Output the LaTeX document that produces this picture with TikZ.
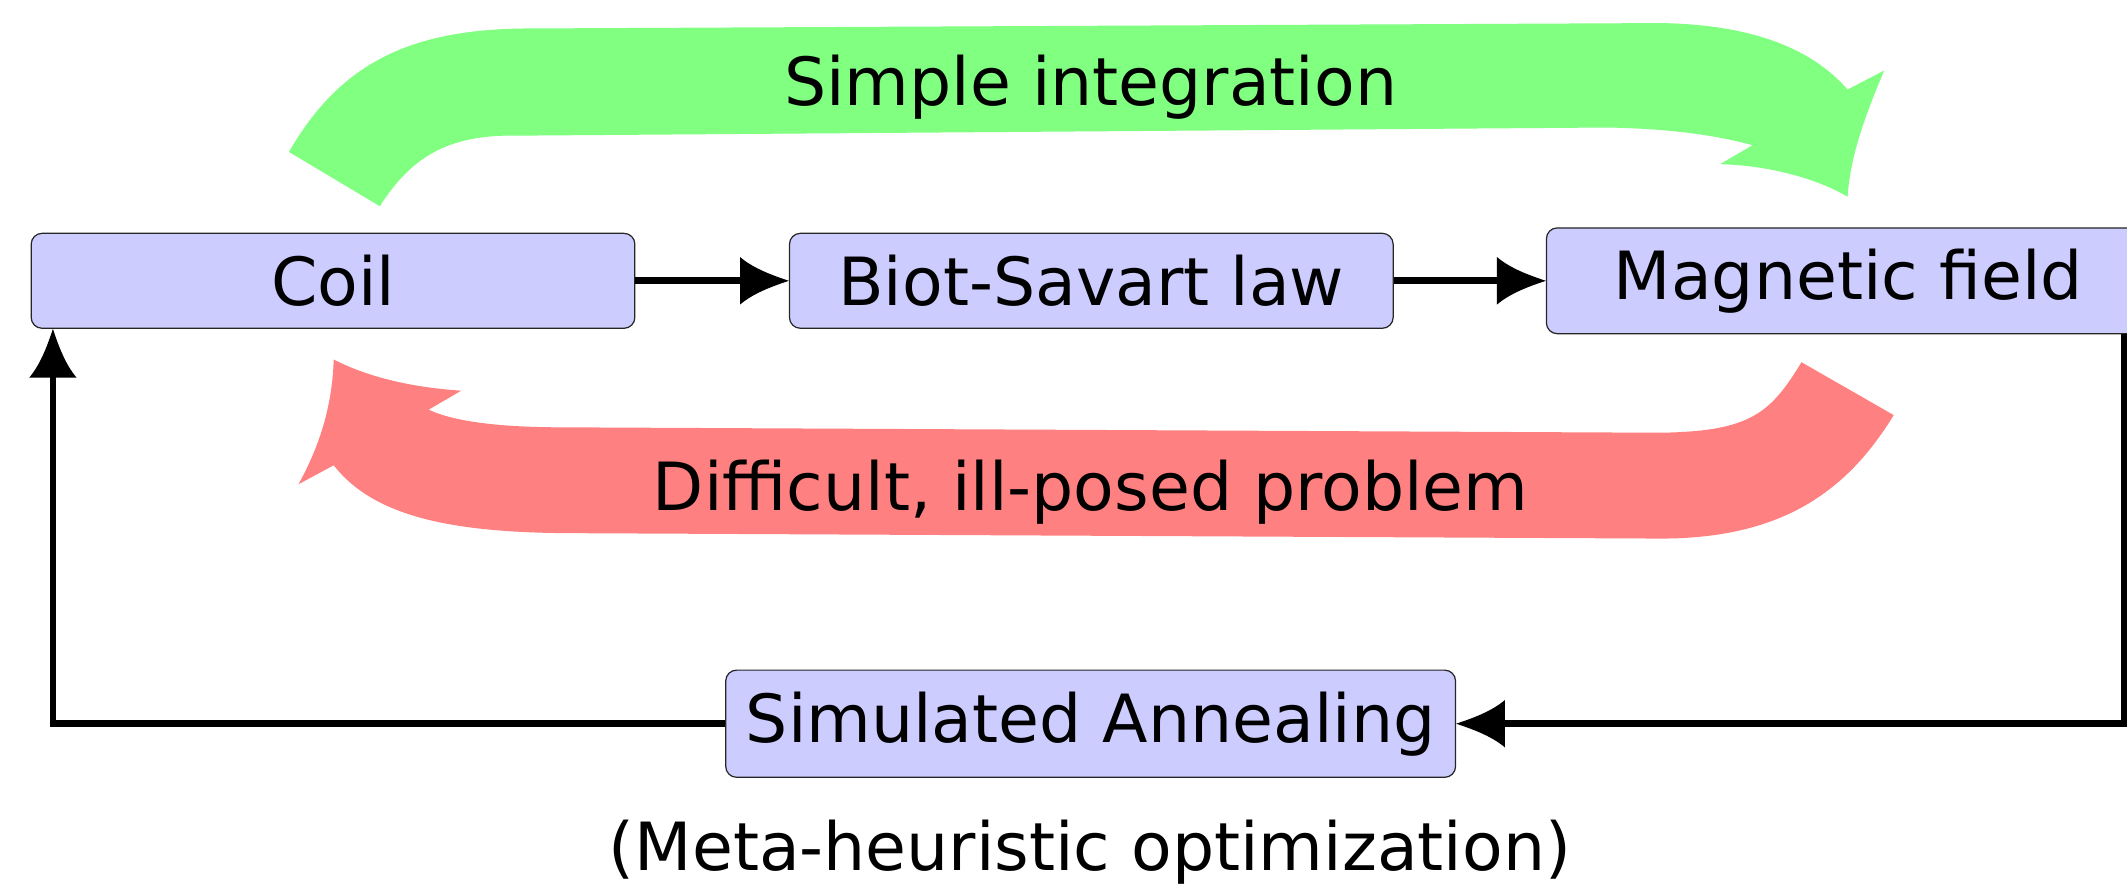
\documentclass[tikz,border=0pt]{standalone}
\usepackage{fontspec}
\setmainfont{DejaVu Sans}
\usetikzlibrary{arrows.meta}

% Arrow head with a straight back and inward-curved flanks
\pgfdeclarearrow{
  name = Barb,
  setup code = {
    \pgfarrowssettipend{0pt}
    \pgfarrowssetbackend{-36pt}
    \pgfarrowssetvisualbackend{-36pt}
    \pgfarrowssetlineend{-20pt}
    \pgfarrowsupperhullpoint{-36pt}{17.5pt}
    \pgfarrowsupperhullpoint{0pt}{0pt}
  },
  drawing code = {
    \pgfpathmoveto{\pgfpoint{0pt}{0pt}}
    \pgfpathcurveto{\pgfpoint{-12pt}{4pt}}{\pgfpoint{-26pt}{9pt}}{\pgfpoint{-36pt}{17.5pt}}
    \pgfpathlineto{\pgfpoint{-36pt}{-17.5pt}}
    \pgfpathcurveto{\pgfpoint{-26pt}{-9pt}}{\pgfpoint{-12pt}{-4pt}}{\pgfpoint{0pt}{0pt}}
    \pgfpathclose
    \pgfusepathqfill
  }
}

\definecolor{boxfill}{RGB}{204,204,255}
\definecolor{bandgreen}{RGB}{128,255,128}
\definecolor{bandred}{RGB}{255,128,128}

\tikzset{
  txt/.style={font=\fontsize{49}{58}\selectfont, text=black},
  block/.style={txt, draw=black!85, line width=0.9pt, fill=boxfill,
    rounded corners=8pt, inner sep=0pt, minimum width=445pt, minimum height=70pt},
  conn/.style={line width=5pt, -{Barb}},
  label/.style={txt, anchor=base, inner sep=0pt},
}

\begin{document}
\begin{tikzpicture}[x=1pt, y=-1pt]
\useasboundingbox (0,0) rectangle (1568,657);
\clip (0,0) rectangle (1568,657);

% green band: forward direction
\fill[bandgreen] (213,112) .. controls (250,48) and (300,22) .. (386,21)
  -- (1224,17) .. controls (1290,18) and (1335,35) .. (1362,66)
  -- (1389,52) .. controls (1375,85) and (1364,115) .. (1362,145)
  .. controls (1340,132) and (1305,122) .. (1268,121)
  -- (1292,107) .. controls (1262,99) and (1230,95) .. (1186,94)
  -- (381,100) .. controls (330,99) and (303,116) .. (280,152) -- cycle;
\node[label] (simple) at (804,77.5) {Simple integration};

% red band: inverse direction
\fill[bandred] (1328,267) .. controls (1305,305) and (1290,318) .. (1224,319)
  -- (414,315) .. controls (370,315) and (335,311) .. (316,302)
  -- (340,288) .. controls (310,286) and (275,280) .. (246,265)
  .. controls (245,300) and (235,330) .. (220,357)
  -- (246,343) .. controls (275,380) and (330,392) .. (414,393)
  -- (1220,397) .. controls (1310,398) and (1360,365) .. (1396,306) -- cycle;
\node[label] (difficult) at (804,376) {Difficult, ill-posed problem};

% blocks
\node[block] (coil) at (245.5,207) {Coil};
\node[block] (biot) at (804.5,207) {Biot-Savart law};
\node[block, minimum height=78pt] (mf) at (1362.5,207) {Magnetic field};
\node[block, minimum width=538pt, minimum height=79pt] (sa) at (804,533.5) {Simulated Annealing};
\node[label] (meta) at (803.5,642) {(Meta-heuristic optimization)};

% feedback loop rails
\coordinate (lx) at (39,0);
\coordinate (rx) at (1566,0);

% connectors
\draw[conn] (coil.east) -- (biot.west);
\draw[conn] (biot.east) -- (mf.west);
\draw[conn] (rx |- mf.south) |- (sa.east);
\draw[conn] (sa.west) -| (coil.south -| lx);
\end{tikzpicture}
\end{document}
